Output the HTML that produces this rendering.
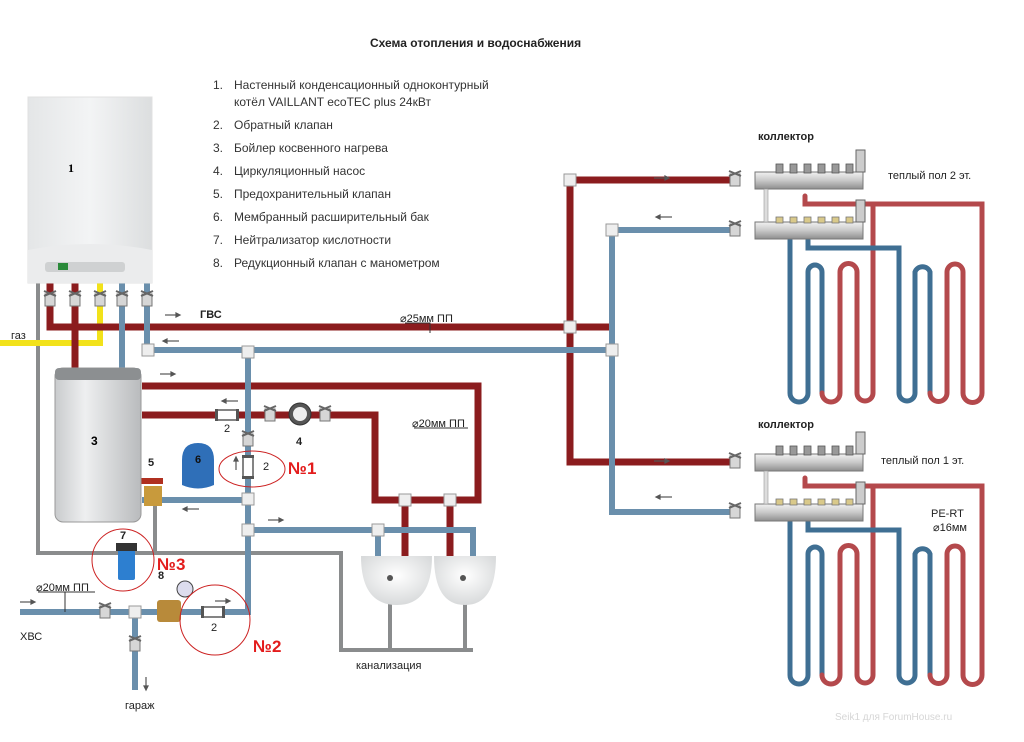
<!DOCTYPE html>
<html><head><meta charset="utf-8">
<style>
html,body{margin:0;padding:0;background:#fff;overflow:hidden;}
svg{display:block;font-family:"Liberation Sans","DejaVu Sans",sans-serif;}
</style></head>
<body>
<svg width="1024" height="742" viewBox="0 0 1024 742" xmlns="http://www.w3.org/2000/svg">
<defs>
<linearGradient id="tank" x1="0" x2="1"><stop offset="0" stop-color="#c9cbcd"/><stop offset="0.35" stop-color="#eeeff0"/><stop offset="1" stop-color="#b9bbbd"/></linearGradient>
<linearGradient id="boil" x1="0" x2="1"><stop offset="0" stop-color="#e4e6e7"/><stop offset="0.5" stop-color="#f3f4f5"/><stop offset="1" stop-color="#dcdedf"/></linearGradient>
<linearGradient id="coll" x1="0" y1="0" x2="0" y2="1"><stop offset="0" stop-color="#f2f2f2"/><stop offset="0.5" stop-color="#c8c8c8"/><stop offset="1" stop-color="#8e8e8e"/></linearGradient>
<radialGradient id="sink" cx="0.5" cy="0.4" r="0.6"><stop offset="0" stop-color="#fff"/><stop offset="1" stop-color="#d8dadb"/></radialGradient>
<g id="valve"><rect x="-5" y="-6" width="10" height="12" fill="#d6d6d6" stroke="#777" stroke-width="1"/><path d="M-6,-9 L6,-4 M6,-9 L-6,-4" stroke="#666" stroke-width="2"/></g>
<g id="tee"><rect x="-6" y="-6" width="12" height="12" fill="#eee" stroke="#999" stroke-width="1"/></g>
<g id="cv"><rect x="-11" y="-5" width="22" height="10" fill="#fff" stroke="#333" stroke-width="1.2"/><rect x="-12" y="-6" width="3" height="12" fill="#555"/><rect x="9" y="-6" width="3" height="12" fill="#555"/></g>
<g id="floor">
<g fill="none" stroke-width="5" stroke-linecap="round">
<path d="M790,240 V393 A9 9 0 0 0 808 393 V272 A7 7 0 0 1 822 272 V393" stroke="#3f6f93"/>
<path d="M822,393 A9 9 0 0 0 840 393 V272 A8 8 0 0 1 857 272 V393 A8 8 0 0 0 873 393 V205" stroke="#b4494c"/>
<path d="M808,240 V248 H899 V393 A8 8 0 0 0 915 393 V272 A8 8 0 0 1 930 272 V393" stroke="#3f6f93"/>
<path d="M930,393 A8 8 0 0 0 947 393 V272 A8 8 0 0 1 963 272 V393 A9 9 0 0 0 982 393 V204 H805 V196" stroke="#b4494c"/>
</g>
<rect x="755" y="172" width="108" height="17" fill="url(#coll)" stroke="#777"/>
<rect x="755" y="222" width="108" height="17" fill="url(#coll)" stroke="#777"/>
<g fill="#999" stroke="#555" stroke-width="0.8">
<rect x="776" y="164" width="7" height="9"/><rect x="790" y="164" width="7" height="9"/><rect x="804" y="164" width="7" height="9"/><rect x="818" y="164" width="7" height="9"/><rect x="832" y="164" width="7" height="9"/><rect x="846" y="164" width="7" height="9"/>
</g>
<g fill="#d9c98a" stroke="#777" stroke-width="0.8">
<rect x="776" y="217" width="7" height="6"/><rect x="790" y="217" width="7" height="6"/><rect x="804" y="217" width="7" height="6"/><rect x="818" y="217" width="7" height="6"/><rect x="832" y="217" width="7" height="6"/><rect x="846" y="217" width="7" height="6"/>
</g>
<rect x="856" y="150" width="9" height="22" fill="#ccc" stroke="#666"/>
<rect x="856" y="200" width="9" height="22" fill="#ccc" stroke="#666"/>
<rect x="764" y="189" width="4" height="33" fill="#ddd" stroke="#999" stroke-width="0.6"/>
</g>
</defs>

<text x="370" y="47" font-size="12" font-weight="bold" fill="#222">Схема отопления и водоснабжения</text>
<g font-size="12" fill="#333">
<text x="213" y="89">1.</text><text x="234" y="89">Настенный конденсационный одноконтурный</text>
<text x="234" y="106">котёл VAILLANT ecoTEC plus 24кВт</text>
<text x="213" y="129">2.</text><text x="234" y="129">Обратный клапан</text>
<text x="213" y="152">3.</text><text x="234" y="152">Бойлер косвенного нагрева</text>
<text x="213" y="175">4.</text><text x="234" y="175">Циркуляционный насос</text>
<text x="213" y="198">5.</text><text x="234" y="198">Предохранительный клапан</text>
<text x="213" y="221">6.</text><text x="234" y="221">Мембранный расширительный бак</text>
<text x="213" y="244">7.</text><text x="234" y="244">Нейтрализатор кислотности</text>
<text x="213" y="267">8.</text><text x="234" y="267">Редукционный клапан с манометром</text>
</g>

<g fill="none" stroke="#8a8c8d" stroke-width="4">
<path d="M38,282 V553 H341 V650 H473"/>
<path d="M155,505 V553"/>
<path d="M390,600 V650 M465,600 V650"/>
</g>

<path d="M0,343 H100 V282" fill="none" stroke="#f2e21a" stroke-width="6"/>

<g fill="none" stroke="#8b1c1e" stroke-width="7">
<path d="M50,282 V327 H612"/>
<path d="M75,282 V368"/>
<path d="M730,180 H570 V462 H730"/>
<path d="M142,386 H478 V500 H375 V415 H142"/>
<path d="M405,500 V557 M450,500 V557"/>
</g>
<g fill="none" stroke="#6a8fac" stroke-width="6">
<path d="M122,282 V368"/>
<path d="M147,282 V350 H612"/>
<path d="M730,230 H612 V512 H730"/>
<path d="M248,350 V612 H20"/>
<path d="M142,500 H248"/>
<path d="M248,530 H473 V557"/>
<path d="M378,530 V557"/>
<path d="M135,612 V690"/>
</g>

<use href="#tee" x="248" y="352"/><use href="#tee" x="248" y="499"/><use href="#tee" x="248" y="530"/>
<use href="#tee" x="405" y="500"/><use href="#tee" x="450" y="500"/><use href="#tee" x="378" y="530"/>
<use href="#tee" x="135" y="612"/><use href="#tee" x="612" y="350"/><use href="#tee" x="570" y="327"/>
<use href="#tee" x="570" y="180"/><use href="#tee" x="612" y="230"/><use href="#tee" x="148" y="350"/>
<use href="#valve" x="50" y="300"/><use href="#valve" x="75" y="300"/><use href="#valve" x="100" y="300"/>
<use href="#valve" x="122" y="300"/><use href="#valve" x="147" y="300"/>
<use href="#valve" x="248" y="440"/><use href="#valve" x="270" y="415"/><use href="#valve" x="325" y="415"/>
<use href="#valve" x="105" y="612"/><use href="#valve" x="135" y="645"/>
<use href="#valve" x="735" y="180"/><use href="#valve" x="735" y="230"/>
<use href="#valve" x="735" y="462"/><use href="#valve" x="735" y="512"/>
<use href="#cv" x="227" y="415"/><use href="#cv" x="213" y="612"/>
<g transform="translate(248,467) rotate(90)"><use href="#cv"/></g>

<circle cx="300" cy="414" r="11" fill="#555" stroke="#333"/><circle cx="300" cy="414" r="7" fill="#eee"/>
<path d="M182,460 Q182,443 198,443 Q214,443 214,460 V485 Q198,492 182,485 Z" fill="#2f6fb8"/>
<rect x="144" y="486" width="18" height="20" fill="#c89a3c"/><rect x="141" y="478" width="22" height="6" fill="#b03020"/>
<rect x="118" y="548" width="17" height="32" rx="2" fill="#2d7fd0"/><rect x="116" y="543" width="21" height="8" fill="#333"/>
<rect x="157" y="600" width="24" height="22" rx="3" fill="#b88a3a"/><circle cx="185" cy="589" r="8" fill="#dde" stroke="#444"/>

<rect x="28" y="97" width="124" height="186" fill="url(#boil)" stroke="#e0e0e0"/>
<path d="M28,250 Q90,238 152,250 V283 H28 Z" fill="#ebeced"/>
<rect x="45" y="262" width="80" height="10" rx="3" fill="#cfd1d2"/><rect x="58" y="263" width="10" height="7" fill="#2a8a3a"/>
<text x="68" y="172" font-size="12" font-weight="bold" font-family="Liberation Serif,serif">1</text>

<rect x="55" y="368" width="86" height="154" rx="8" fill="url(#tank)" stroke="#999"/>
<rect x="55" y="368" width="86" height="12" rx="4" fill="#8c8f91"/>
<text x="91" y="445" font-size="12" font-weight="bold">3</text>

<path d="M361,556 H432 Q432,605 397,605 Q361,605 361,556 Z" fill="url(#sink)"/>
<path d="M434,556 H496 Q496,605 465,605 Q434,605 434,556 Z" fill="url(#sink)"/>
<circle cx="390" cy="578" r="3" fill="#555"/><circle cx="463" cy="578" r="3" fill="#555"/>

<g fill="none" stroke="#c22" stroke-width="1">
<ellipse cx="252" cy="469" rx="33" ry="18"/>
<circle cx="123" cy="560" r="31"/>
<circle cx="215" cy="620" r="35"/>
</g>
<g fill="#e31c1c" font-size="17" font-weight="bold">
<text x="288" y="474">№1</text><text x="157" y="570">№3</text><text x="253" y="652">№2</text>
</g>

<g font-size="11" fill="#222">
<text x="148" y="466" font-weight="bold">5</text>
<text x="195" y="463" font-weight="bold" fill="#111">6</text>
<text x="296" y="445" font-weight="bold">4</text>
<text x="120" y="539" font-weight="bold">7</text>
<text x="158" y="579" font-weight="bold">8</text>
<text x="224" y="432">2</text><text x="263" y="470">2</text><text x="211" y="631">2</text>
<text x="11" y="339">газ</text>
<text x="200" y="318" font-weight="bold">ГВС</text>
<text x="400" y="322">⌀25мм ПП</text>
<text x="412" y="427">⌀20мм ПП</text>
<text x="36" y="591">⌀20мм ПП</text>
<text x="20" y="640">ХВС</text>
<text x="125" y="709">гараж</text>
<text x="356" y="669">канализация</text>
<text x="758" y="140" font-weight="bold">коллектор</text>
<text x="758" y="428" font-weight="bold">коллектор</text>
<text x="888" y="179">теплый пол 2 эт.</text>
<text x="881" y="464">теплый пол 1 эт.</text>
<text x="931" y="517">PE-RT</text>
<text x="933" y="531">⌀16мм</text>
</g>
<g stroke="#333" stroke-width="1" fill="none">
<path d="M405,323 H430 V333 M414,428 H468 M38,592 H95 M65,592 V612"/>
</g>
<text x="835" y="720" font-size="10" fill="#d6d6d6">Seik1 для ForumHouse.ru</text>

<g stroke="#555" stroke-width="1.2" fill="#555">
<path d="M165,315 h12"/><path d="M180,315 l-4,-2 v4z"/>
<path d="M163,341 l4,-2 v4z"/><path d="M167,341 h12"/>
<path d="M160,374 h12"/><path d="M175,374 l-4,-2 v4z"/>
<path d="M222,401 l4,-2 v4z"/><path d="M226,401 h12"/>
<path d="M183,509 l4,-2 v4z"/><path d="M187,509 h12"/>
<path d="M268,520 h12"/><path d="M283,520 l-4,-2 v4z"/>
<path d="M20,602 h12"/><path d="M35,602 l-4,-2 v4z"/>
<path d="M215,601 h12"/><path d="M230,601 l-4,-2 v4z"/>
<path d="M236,470 v-10"/><path d="M236,457 l-2,4 h4z"/>
<path d="M146,677 v10"/><path d="M146,690 l-2,-4 h4z"/>
<path d="M654,178 h12"/><path d="M669,178 l-4,-2 v4z"/>
<path d="M656,217 l4,-2 v4z"/><path d="M660,217 h12"/>
<path d="M654,461 h12"/><path d="M669,461 l-4,-2 v4z"/>
<path d="M656,497 l4,-2 v4z"/><path d="M660,497 h12"/>
</g>

<use href="#floor"/>
<g transform="translate(0,282)"><use href="#floor"/></g>
</svg>
</body></html>
